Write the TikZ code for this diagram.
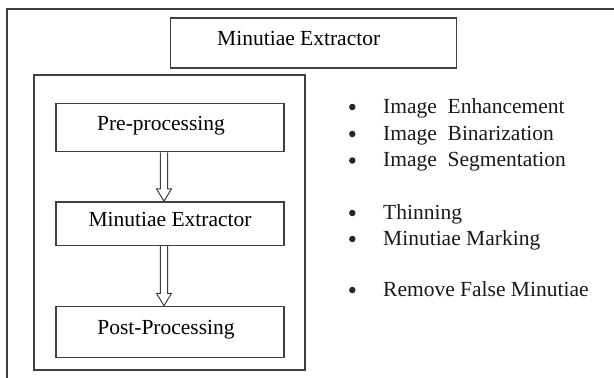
\documentclass[tikz,border=0pt]{standalone}
\usepackage{fontspec}
\setmainfont{Liberation Serif}
\usetikzlibrary{positioning}
\definecolor{frame}{HTML}{404040}
\tikzset{
  stage/.style={draw=frame, line width=1.2pt, minimum width=228pt, text height=14pt, text depth=9pt, inner sep=0pt},
  dot/.style={circle, fill=black!85, inner sep=0pt, minimum size=6.5pt},
  item/.style={anchor=base west, inner sep=0pt, text=black!90},
  hollow/.style={draw=frame, line width=1pt, to path={
    ([xshift=#1-3.7pt]\tikztostart) -- ([xshift=#1-3.7pt,yshift=12.5pt]\tikztotarget)
    -- ([xshift=#1-7.5pt,yshift=12.5pt]\tikztotarget) -- ([xshift=#1]\tikztotarget)
    -- ([xshift=#1+7.5pt,yshift=12.5pt]\tikztotarget) -- ([xshift=#1+3.7pt,yshift=12.5pt]\tikztotarget)
    -- ([xshift=#1+3.7pt]\tikztostart)}},
  hollow/.default=0pt
}
\begin{document}
\begin{tikzpicture}[x=1pt,y=-1pt,font=\fontsize{21.5}{25}\selectfont]
\useasboundingbox (0,0) rectangle (614,378);
% outer frame, cut by the page edge
\draw[frame, line width=1.2pt] (614,9) -- (7,9) -- (7,378);
\node[stage, minimum width=286pt, minimum height=50pt] (title) at (313.7,43) {Minutiae Extractor\hspace*{30pt}};
\node[draw=frame, line width=1.2pt, minimum width=271pt, minimum height=295pt, inner sep=0pt] (stages) at (169.5,222.4) {};
\node[stage, minimum height=48.4pt] (pre) at (170,127.5) {Pre-processing\hspace*{18pt}};
\node[stage, minimum height=43.3pt, below=49pt of pre] (ext) {Minutiae Extractor};
\node[stage, minimum height=51pt, below=60pt of ext] (post) {Post-Processing\hspace*{8pt}};
\draw[hollow=-6pt] (pre.south) to (ext.north);
\draw[hollow=-6pt] (ext.south) to (post.north);
% steps of each stage
\foreach \y/\t [count=\i] in {113/Image~ Enhancement, 140/Image~ Binarization, 166.5/Image~ Segmentation,
    219/Thinning, 245/Minutiae Marking, 296/Remove False Minutiae} {
  \node[dot] (b\i) at (352.3,\y-6) {};
  \node[item] (s\i) at (383,\y) {\t};
}
\end{tikzpicture}
\end{document}
